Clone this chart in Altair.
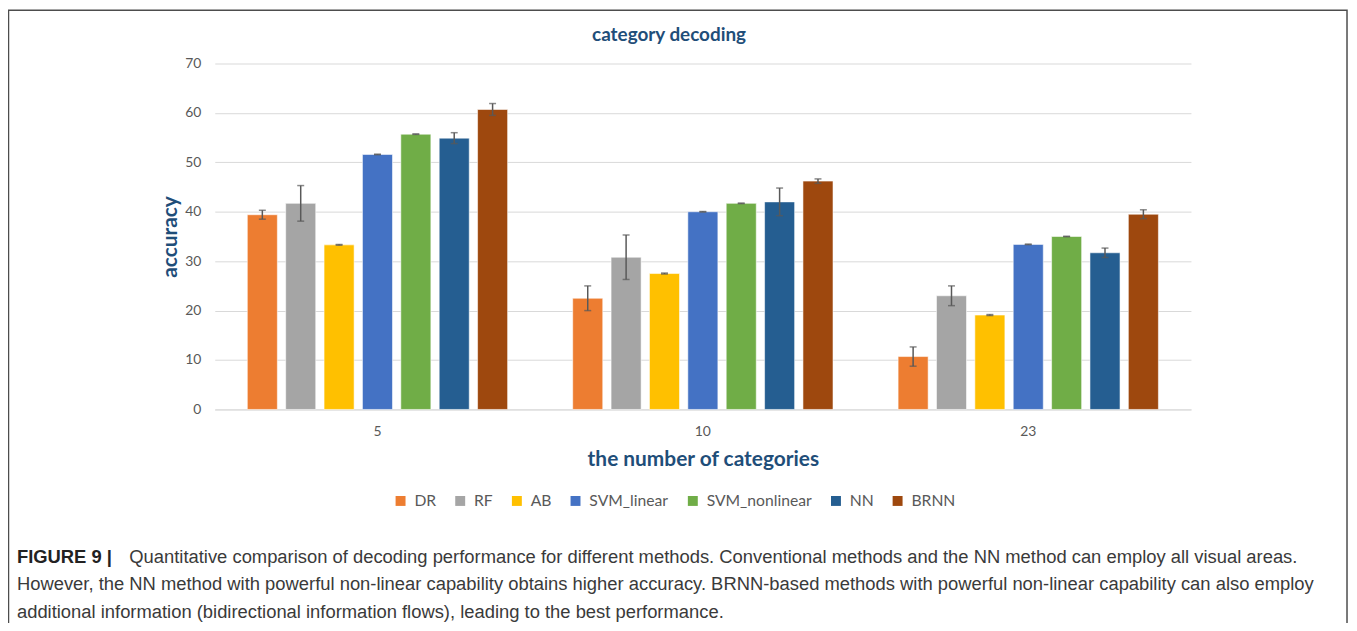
import altair as alt
import pandas as pd

groups = ["5", "10", "23"]
methods = ["DR", "RF", "AB", "SVM_linear", "SVM_nonlinear", "NN", "BRNN"]
colors = ["#ED7D31", "#A5A5A5", "#FFC000", "#4472C4", "#70AD47", "#255E91", "#9E480E"]

acc_5 = [39.4, 41.7, 33.3, 51.6, 55.7, 54.9, 60.7]
acc_10 = [22.5, 30.8, 27.5, 40.0, 41.7, 42.0, 46.2]
acc_23 = [10.7, 23.0, 19.1, 33.4, 35.0, 31.7, 39.5]
err_5 = [0.9, 3.6, 0.1, 0.05, 0.05, 1.1, 1.2]
err_10 = [2.5, 4.5, 0.1, 0.05, 0.05, 2.8, 0.45]
err_23 = [1.95, 2.0, 0.1, 0.05, 0.05, 0.95, 0.9]
y_ticks = [0, 10, 20, 30, 40, 50, 60, 70]

title_text = "category decoding"
x_title = "the number of categories"
y_title = "accuracy"
caption_bold = "FIGURE 9 |"
caption_lines = [
    "Quantitative comparison of decoding performance for different methods. Conventional methods and the NN method can employ all visual areas.",
    "However, the NN method with powerful non-linear capability obtains higher accuracy. BRNN-based methods with powerful non-linear capability can also employ",
    "additional information (bidirectional information flows), leading to the best performance.",
]

rows = []
for g, accs, errs in [("5", acc_5, err_5), ("10", acc_10, err_10), ("23", acc_23, err_23)]:
    for m, a, e in zip(methods, accs, errs):
        rows.append({"group": g, "method": m, "acc": a, "lo": a - e, "hi": a + e})
df = pd.DataFrame(rows)

W, H = 982, 348
BLUE = "#1F4E79"
GRAY = "#595959"

xaxis = alt.Axis(title=x_title, labelAngle=0, labelPadding=15, titlePadding=10,
                 domainColor="#D9D9D9", ticks=False, labelFontSize=14,
                 labelColor=GRAY, labelFont="Lato",
                 titleFont="Lato", titleFontSize=21, titleFontWeight="bold",
                 titleColor=BLUE)
yaxis = alt.Axis(title=y_title, values=y_ticks,
                 domain=False, ticks=False, labelPadding=14,
                 gridColor="#D9D9D9", gridWidth=1,
                 labelFontSize=14, labelColor=GRAY, labelFont="Lato",
                 titleFont="Lato", titleFontSize=21, titleFontWeight="bold",
                 titleColor=BLUE, titlePadding=4)
yscale = alt.Scale(domain=[0, 70])

xenc = alt.X("group:N", sort=groups,
             scale=alt.Scale(paddingInner=0, paddingOuter=0), axis=xaxis)
xoff = alt.XOffset("method:N", sort=methods,
                   scale=alt.Scale(paddingInner=0.217, paddingOuter=0.848))

base = alt.Chart(df)

bars = base.mark_bar(stroke="white", strokeWidth=0.8, strokeOpacity=0.7).encode(
    x=xenc,
    xOffset=xoff,
    y=alt.Y("acc:Q", scale=yscale, axis=yaxis),
    color=alt.Color("method:N", sort=methods,
                    scale=alt.Scale(domain=methods, range=colors),
                    legend=alt.Legend(title=None, orient="none", direction="horizontal",
                                      columns=7, legendX=179, legendY=432,
                                      symbolType="square", symbolSize=100,
                                      symbolStrokeWidth=0, labelFontSize=15.8,
                                      labelFont="Lato", labelColor=GRAY,
                                      labelOffset=6, columnPadding=16, padding=0)),
)

rules = base.mark_rule(color=GRAY, strokeWidth=1.5).encode(
    x=xenc, xOffset=xoff,
    y=alt.Y("lo:Q", scale=yscale, axis=yaxis), y2="hi:Q")
caps_hi = base.mark_tick(color=GRAY, size=7, thickness=1.5, orient="horizontal").encode(
    x=xenc, xOffset=xoff, y=alt.Y("hi:Q", scale=yscale, axis=yaxis))
caps_lo = base.mark_tick(color=GRAY, size=7, thickness=1.5, orient="horizontal").encode(
    x=xenc, xOffset=xoff, y=alt.Y("lo:Q", scale=yscale, axis=yaxis))

one = pd.DataFrame({"k": [0]})
title_mark = alt.Chart(one).mark_text(
    text=title_text, font="Lato", fontSize=19, fontWeight="bold", color=BLUE,
    align="center", baseline="middle").encode(x=alt.value(457), y=alt.value(-29))

frame = alt.Chart(one).mark_rect(fill=None, stroke="#4D4D4D", strokeWidth=1.5).encode(
    x=alt.value(-207.5), x2=alt.value(1139), y=alt.value(-53.5), y2=alt.value(600))

CAP_FONT = "Liberation Sans"
CAP_SIZE = 18.5
cap_layers = []
cap_layers.append(alt.Chart(one).mark_text(
    text=caption_bold, font=CAP_FONT, fontSize=CAP_SIZE, fontWeight="bold",
    color="#222222", align="left", baseline="middle").encode(
    x=alt.value(-199), y=alt.value(496)))
cap_layers.append(alt.Chart(one).mark_text(
    text=caption_lines[0], font=CAP_FONT, fontSize=CAP_SIZE,
    color="#3A3A3A", align="left", baseline="middle").encode(
    x=alt.value(-86), y=alt.value(496)))
for i, line in enumerate(caption_lines[1:]):
    cap_layers.append(alt.Chart(one).mark_text(
        text=line, font=CAP_FONT, fontSize=CAP_SIZE,
        color="#3A3A3A", align="left", baseline="middle").encode(
        x=alt.value(-199), y=alt.value(524 + 28 * i)))

chart = alt.layer(bars, rules, caps_hi, caps_lo, title_mark, frame, *cap_layers).properties(
    width=W, height=H,
    autosize=alt.AutoSizeParams(type="none"),
    padding={"left": 208, "top": 54, "right": 1349 - 208 - W, "bottom": 213},
).configure_view(stroke=None)

chart.save("out.html", embed_options={"renderer": "svg", "actions": False})
